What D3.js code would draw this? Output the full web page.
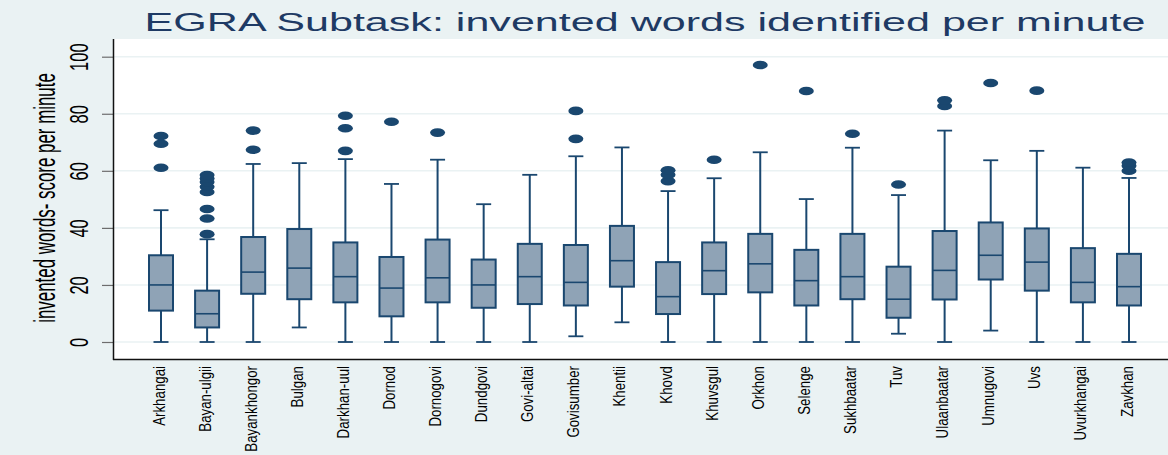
<!DOCTYPE html>
<meta charset="utf-8">
<style>
body { margin: 0; background: #eaf2f3; }
svg { display: block; font-family: "Liberation Sans", Arial, sans-serif; }
</style>
<svg width="1168" height="455"></svg>
<script src="https://d3js.org/d3.v7.min.js"></script>
<script>

var aimags = ["Arkhangai", "Bayan-ulgii", "Bayankhongor", "Bulgan", "Darkhan-uul", "Dornod",
  "Dornogovi", "Dundgovi", "Govi-altai", "Govisumber", "Khentii", "Khovd", "Khuvsgul",
  "Orkhon", "Selenge", "Sukhbaatar", "Tuv", "Ulaanbaatar", "Umnugovi", "Uvs", "Uvurkhangai", "Zavkhan"];

var whiskerLo = [0, 0, 0, 5.1, 0, 0, 0, 0, 0, 2.0, 6.9, 0, 0, 0, 0, 0, 2.9, 0, 4.0, 0, 0, 0];
var q1 =        [11.0, 5.1, 16.9, 15.0, 13.9, 9.0, 13.9, 12.0, 13.3, 12.8, 19.4, 9.8, 16.8, 17.4, 12.8, 15.0, 8.5, 14.9, 21.9, 18.0, 13.9, 12.8];
var medians =   [20.0, 9.9, 24.5, 25.9, 22.9, 18.9, 22.5, 20.0, 22.9, 20.9, 28.5, 15.9, 25.0, 27.4, 21.5, 22.9, 15.0, 25.1, 30.4, 28.0, 20.9, 19.4];
var q3 =        [30.4, 18.0, 36.8, 39.6, 34.9, 29.8, 35.9, 28.9, 34.4, 34.0, 40.7, 28.0, 34.9, 37.9, 32.3, 37.9, 26.4, 38.9, 41.9, 39.8, 32.9, 30.9];
var whiskerHi = [46.2, 36.0, 62.4, 62.7, 64.1, 55.4, 63.9, 48.3, 58.6, 65.1, 68.2, 52.9, 57.4, 66.5, 50.1, 68.1, 51.5, 74.1, 63.7, 67.0, 61.1, 57.5];
var outliers = [
  [61.1, 69.5, 72.2],
  [37.8, 43.3, 46.6, 52.6, 54.4, 56.1, 57.3, 58.5],
  [67.4, 74.1],
  [],
  [67.0, 74.9, 79.3],
  [77.2],
  [73.4],
  [],
  [],
  [71.2, 81.0],
  [],
  [56.4, 58.6, 60.2],
  [63.9],
  [97.1],
  [88.0],
  [73.0],
  [55.2],
  [82.7, 84.7],
  [90.8],
  [88.1],
  [],
  [60.0, 61.8, 62.9]
];
var yTicks = [0, 20, 40, 60, 80, 100];

var navy = "#1a476f", boxFill = "#8fa3b6", bg = "#eaf2f3";

var svg = d3.select("svg"),
    plotLeft = 114, plotRight = 1168, plotTop = 39, plotBottom = 359;

var x = d3.scalePoint()
    .domain(aimags)
    .range([plotLeft + 47, plotRight - 39]);

var y = d3.scaleLinear()
    .domain([0, 100])
    .range([342, 56.7]);

var boxW = 24, capW = 15;

// plot region
svg.append("rect")
    .attr("x", plotLeft).attr("y", plotTop)
    .attr("width", plotRight - plotLeft).attr("height", plotBottom - plotTop)
    .attr("fill", "#fff");

// gridlines
svg.append("g").selectAll("line")
    .data(yTicks)
  .enter().append("line")
    .attr("x1", plotLeft).attr("x2", plotRight)
    .attr("y1", function(d) { return y(d); })
    .attr("y2", function(d) { return y(d); })
    .attr("stroke", bg).attr("stroke-width", 1.6);

// y axis
var yAxis = d3.axisLeft(y).tickValues(yTicks).tickSize(12).tickFormat(d3.format("d"));
var ya = svg.append("g")
    .attr("transform", "translate(" + plotLeft + ",0)")
    .call(yAxis);
ya.select(".domain").remove();
ya.selectAll(".tick line").attr("stroke", "#6d6d6d").attr("stroke-width", 1.2);
ya.selectAll(".tick text")
    .attr("x", null).attr("dy", null)
    .attr("fill", "#000")
    .attr("font-size", 16.5)
    .attr("text-anchor", "middle")
    .attr("transform", "translate(-26,0) rotate(-90) scale(1,1.55)");

// axis lines
svg.append("line")
    .attr("x1", plotLeft - 0.5).attr("x2", plotLeft - 0.5)
    .attr("y1", plotTop).attr("y2", plotBottom + 1)
    .attr("stroke", "#111").attr("stroke-width", 1.5);
svg.append("line")
    .attr("x1", plotLeft - 1).attr("x2", plotRight)
    .attr("y1", plotBottom + 0.5).attr("y2", plotBottom + 0.5)
    .attr("stroke", "#111").attr("stroke-width", 1.5);

// boxes
var g = svg.append("g").selectAll("g")
    .data(aimags)
  .enter().append("g")
    .attr("transform", function(d) { return "translate(" + x(d) + ",0)"; });

g.append("line")
    .attr("y1", function(d, i) { return y(whiskerHi[i]); })
    .attr("y2", function(d, i) { return y(q3[i]); })
    .attr("stroke", navy).attr("stroke-width", 2);
g.append("line")
    .attr("y1", function(d, i) { return y(q1[i]); })
    .attr("y2", function(d, i) { return y(whiskerLo[i]); })
    .attr("stroke", navy).attr("stroke-width", 2);
g.append("line")
    .attr("x1", -capW / 2).attr("x2", capW / 2)
    .attr("y1", function(d, i) { return y(whiskerHi[i]); })
    .attr("y2", function(d, i) { return y(whiskerHi[i]); })
    .attr("stroke", navy).attr("stroke-width", 1.8);
g.append("line")
    .attr("x1", -capW / 2).attr("x2", capW / 2)
    .attr("y1", function(d, i) { return y(whiskerLo[i]); })
    .attr("y2", function(d, i) { return y(whiskerLo[i]); })
    .attr("stroke", navy).attr("stroke-width", 1.8);
g.append("rect")
    .attr("x", -boxW / 2).attr("width", boxW)
    .attr("y", function(d, i) { return y(q3[i]); })
    .attr("height", function(d, i) { return y(q1[i]) - y(q3[i]); })
    .attr("fill", boxFill).attr("stroke", navy).attr("stroke-width", 2);
g.append("line")
    .attr("x1", -boxW / 2).attr("x2", boxW / 2)
    .attr("y1", function(d, i) { return y(medians[i]); })
    .attr("y2", function(d, i) { return y(medians[i]); })
    .attr("stroke", navy).attr("stroke-width", 1.6);

g.selectAll("ellipse")
    .data(function(d, i) { return outliers[i]; })
  .enter().append("ellipse")
    .attr("cy", function(v) { return y(v); })
    .attr("rx", 7.5).attr("ry", 4.3)
    .attr("fill", navy);

// x labels
svg.append("g").selectAll("text")
    .data(aimags)
  .enter().append("text")
    .attr("transform", function(d) { return "translate(" + (x(d) + 3.5) + ",366) rotate(-90) scale(1,1.3)"; })
    .attr("text-anchor", "end")
    .attr("font-size", 13.3)
    .attr("fill", "#000")
    .text(function(d) { return d; });

// y title
svg.append("text")
    .attr("transform", "translate(55,198) rotate(-90) scale(1,1.7)")
    .attr("text-anchor", "middle")
    .attr("font-size", 16.9)
    .attr("fill", "#000")
    .text("invented words- score per minute");

// title
svg.append("text")
    .attr("transform", "translate(645,31) scale(1.67,1)")
    .attr("text-anchor", "middle")
    .attr("font-size", 25.8)
    .attr("fill", "#1e3a64")
    .text("EGRA Subtask: invented words identified per minute");

</script>
